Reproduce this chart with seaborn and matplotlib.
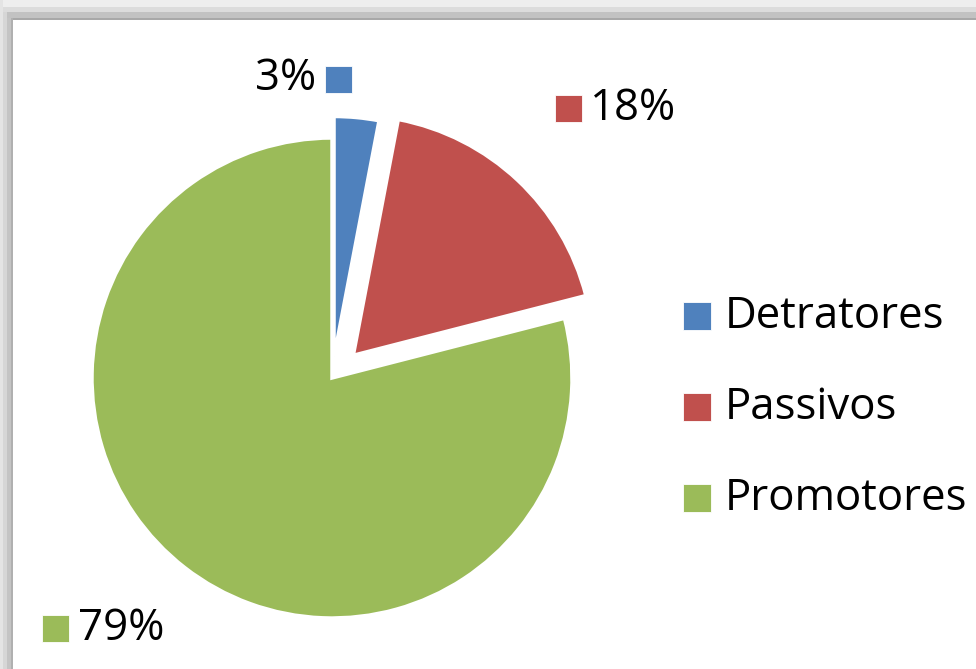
import matplotlib
matplotlib.use("Agg")
import matplotlib.pyplot as plt
from matplotlib.patches import Rectangle
import seaborn as sns

# ---- data ----
categories = ["Detratores", "Passivos", "Promotores"]
values = [3, 18, 79]
colors = ["#4F81BD", "#C0504D", "#9BBB59"]

sns.set_theme(style="white")
plt.rcParams["font.family"] = ["Open Sans", "DejaVu Sans"]

W, H = 976, 669
fig = plt.figure(figsize=(W / 100, H / 100), dpi=100)
fig.patch.set_facecolor("white")


def fx(x):
    return x / W


def fy(y):
    return 1 - y / H


# frame decoration (shadowed border)
def band(x0, y0, x1, y1, c):
    fig.patches.append(Rectangle((fx(x0), fy(y1)), (x1 - x0) / W, (y1 - y0) / H,
                                 transform=fig.transFigure, facecolor=c,
                                 edgecolor="none", zorder=0))

band(0, 0, W, 7, "#EEEEEE")
band(0, 7, W, 12, "#DCDCDC")
band(0, 12, W, 18, "#C2C2C2")
band(10, 18, W, 19.5, "#A8A8A8")
band(0, 0, 3, H, "#E4E4E4")
band(3, 12, 7, H, "#D6D6D6")
band(7, 18, 11, H, "#C4C4C4")
band(11, 18, 12.5, H, "#B0B0B0")

# pie axes: 1 data unit = 240 px, centre at pixel (332, 378)
R = 240.0
cx, cy = 332.0, 378.0
ax = fig.add_axes([0, 0, 1, 1])
ax.set_facecolor("none")
wedges, _ = ax.pie(values, colors=colors, startangle=90, counterclock=False,
                   explode=[0.09, 0.13, 0.0],
                   wedgeprops=dict(edgecolor="white", linewidth=2.5))
ax.set_aspect("auto")
ax.set_xlim(-cx / R, (W - cx) / R)
ax.set_ylim(-(H - cy) / R, cy / R)
ax.axis("off")

FS = 31.5


def key(x0, y0, c, s=27):
    fig.patches.append(Rectangle((fx(x0), fy(y0 + s)), s / W, s / H,
                                 transform=fig.transFigure, facecolor=c,
                                 edgecolor="white", linewidth=0.6, zorder=3))

labels = [f"{v}%" for v in values]

# data labels with legend keys
key(325, 66, colors[0])
fig.text(fx(316), fy(79), labels[0], ha="right", va="center", fontsize=FS, color="black")
key(555, 95, colors[1])
fig.text(fx(590), fy(109), labels[1], ha="left", va="center", fontsize=FS, color="black")
key(42, 615, colors[2])
fig.text(fx(78), fy(629), labels[2], ha="left", va="center", fontsize=FS, color="black")

# legend
leg_y = [302, 393, 484]
for cat, c, y in zip(categories, colors, leg_y):
    key(683, y, c, s=28)
    fig.text(fx(725), fy(y + 15), cat, ha="left", va="center", fontsize=FS, color="black")

fig.savefig("out.png", dpi=100, facecolor="white")
